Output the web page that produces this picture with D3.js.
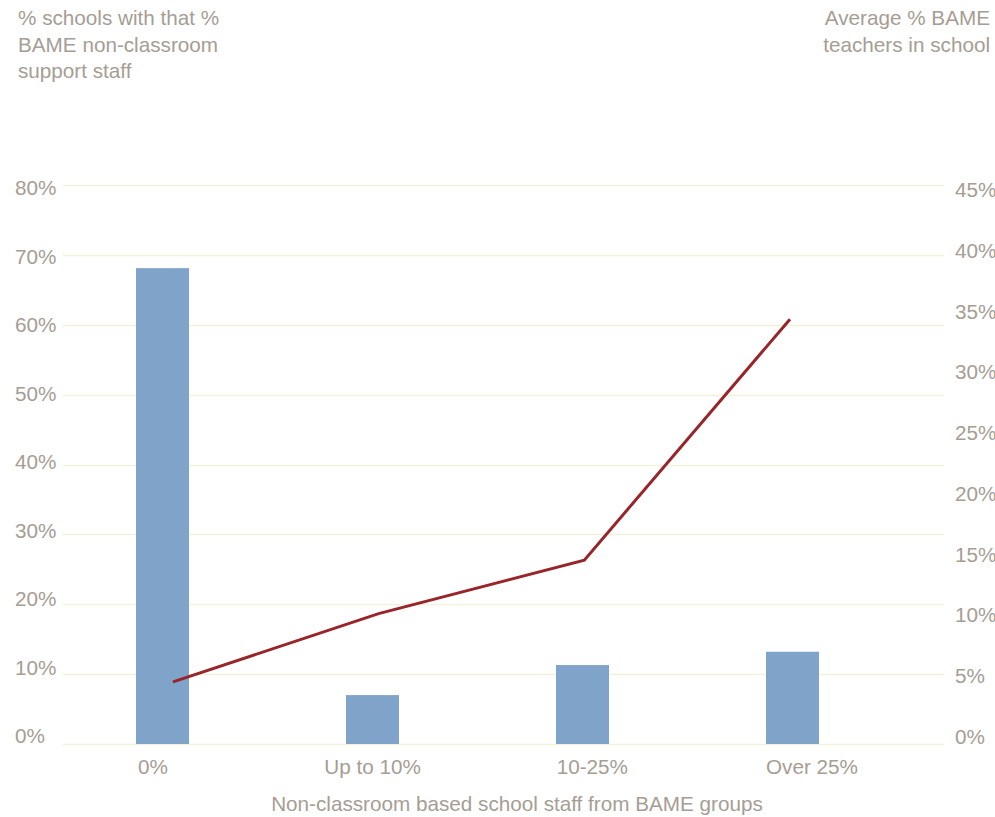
<!DOCTYPE html>
<html><head><meta charset="utf-8">
<script src="https://cdn.jsdelivr.net/npm/d3@7"></script>
<style>body{margin:0;background:#fff}svg{display:block}text{font-family:"Liberation Sans",Arial,sans-serif;fill:#a69d94}</style>
</head><body><svg id="c" width="995" height="817"></svg>
<script>
const categories = ["0%", "Up to 10%", "10-25%", "Over 25%"];
const schoolShare = [68.1, 7.0, 11.3, 13.2];      // % schools (left axis)
const avgTeachers = [5.0, 10.5, 14.8, 34.2];      // avg % BAME teachers (right axis)
const leftTicks = [0, 10, 20, 30, 40, 50, 60, 70, 80];
const rightTicks = [0, 5, 10, 15, 20, 25, 30, 35, 40, 45];
const leftTitle = ["% schools with that %", "BAME non-classroom", "support staff"];
const rightTitle = ["Average % BAME", "teachers in school"];
const xTitle = "Non-classroom based school staff from BAME groups";

const svg = d3.select("#c");
const fs = 20.7;
const yL = d3.scaleLinear().domain([0, 80]).range([744, 185]);
const yR = d3.scaleLinear().domain([0, 45]).range([744, 185]);
// label baseline scales
const yLabL = d3.scaleLinear().domain([0, 80]).range([743, 195]);
const yLabR = d3.scaleLinear().domain([0, 45]).range([744, 197]);
const xBar = d3.scalePoint().domain(categories).range([162.5, 792.5]);
const xLine = d3.scalePoint().domain(categories).range([173, 790]);
const xLab = d3.scalePoint().domain(categories).range([153, 812]);
const barW = 53;

// gridlines
svg.append("g").selectAll("line").data(leftTicks).join("line")
  .attr("x1", 63).attr("x2", 944)
  .attr("y1", d => Math.round(yL(d)) + 0.5).attr("y2", d => Math.round(yL(d)) + 0.5)
  .attr("stroke", "#f3f1d9").attr("stroke-width", 1.5);

// left tick labels
svg.append("g").selectAll("text").data(leftTicks).join("text")
  .attr("x", 15).attr("y", d => yLabL(d)).attr("font-size", fs)
  .text(d => d + "%");
// right tick labels
svg.append("g").selectAll("text").data(rightTicks).join("text")
  .attr("x", 955).attr("y", d => yLabR(d)).attr("font-size", fs)
  .text(d => d + "%");

// bars
svg.append("g").selectAll("rect").data(categories).join("rect")
  .attr("x", d => xBar(d) - barW / 2).attr("width", barW)
  .attr("y", (d, i) => yL(schoolShare[i]))
  .attr("height", (d, i) => yL(0) - yL(schoolShare[i]))
  .attr("fill", "#80a3ca");

// line
const line = d3.line().x((d, i) => xLine(categories[i])).y(d => yR(d));
svg.append("path").datum(avgTeachers).attr("d", line)
  .attr("fill", "none").attr("stroke", "#98252a").attr("stroke-width", 3);

// category labels
svg.append("g").selectAll("text").data(categories).join("text")
  .attr("x", d => xLab(d)).attr("y", 774).attr("text-anchor", "middle").attr("font-size", fs)
  .text(d => d);

// x title
svg.append("text").attr("x", 517).attr("y", 811).attr("text-anchor", "middle").attr("font-size", fs).text(xTitle);

// axis titles
svg.append("g").selectAll("text").data(leftTitle).join("text")
  .attr("x", 18).attr("y", (d, i) => 25 + i * 26.5).attr("font-size", fs).text(d => d);
svg.append("g").selectAll("text").data(rightTitle).join("text")
  .attr("x", 990).attr("y", (d, i) => 25 + i * 26.5).attr("text-anchor", "end").attr("font-size", fs).text(d => d);
</script></body></html>
